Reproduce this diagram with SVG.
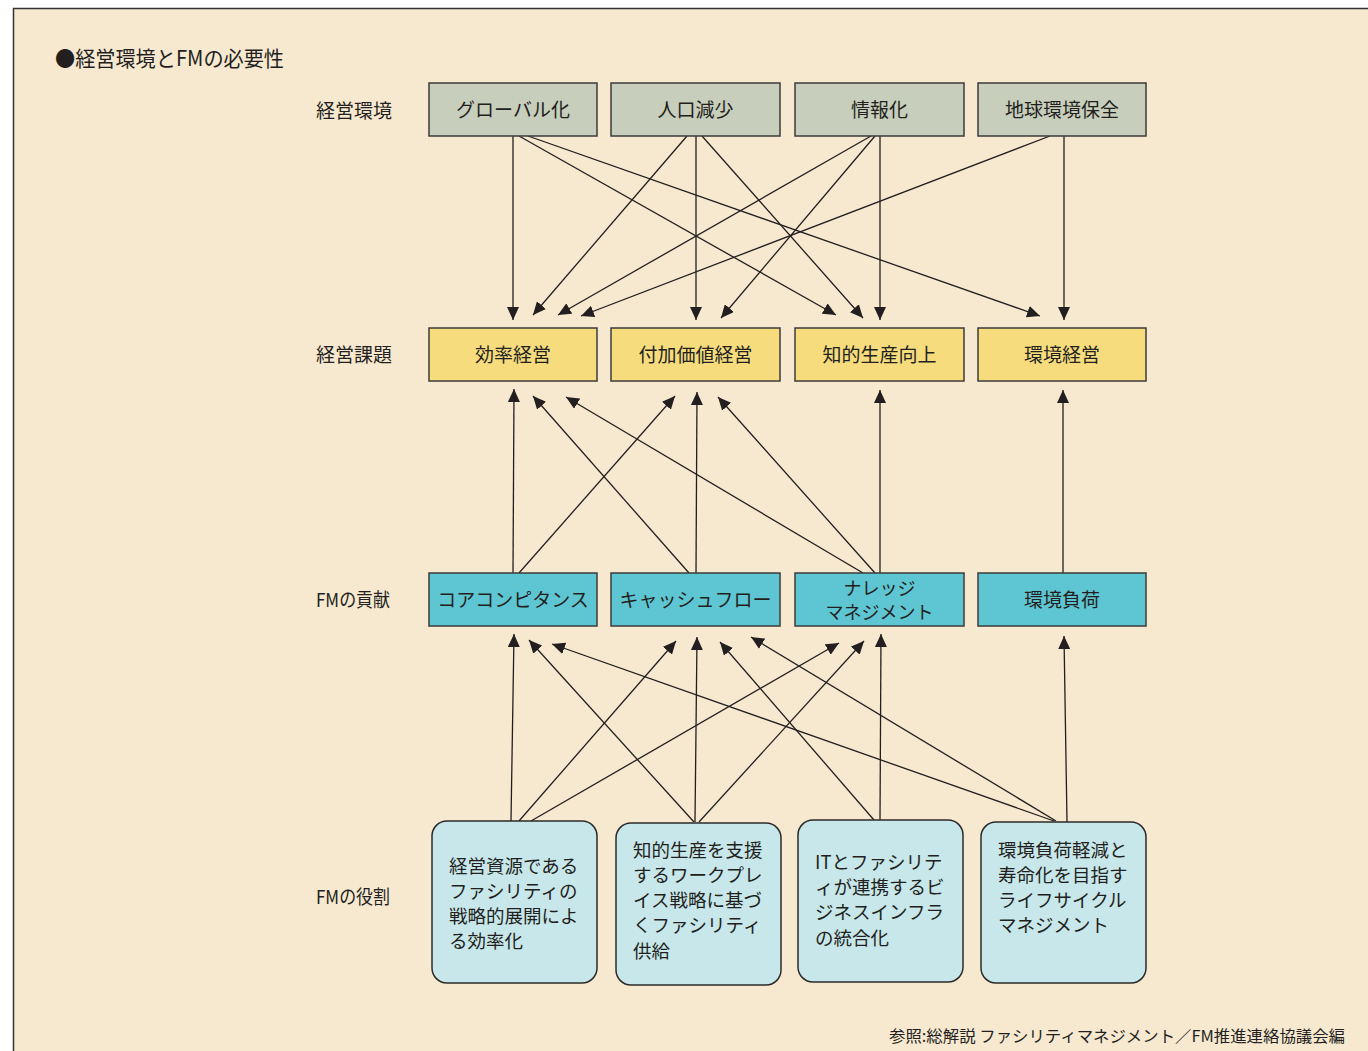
<svg xmlns="http://www.w3.org/2000/svg" width="1368" height="1051" viewBox="0 0 1368 1051">
<style>
text{font-family:"Noto Sans CJK JP","Noto Sans",sans-serif;fill:#231f20}
.lbl{font-size:19px}
.rt{font-size:18.5px}
.bx{font-size:19px;text-anchor:middle}
.env{fill:#c7cebb;stroke:#3d3b3a;stroke-width:1.5}
.iss{fill:#f6dc7d;stroke:#3d3b3a;stroke-width:1.5}
.con{fill:#5ec5d2;stroke:#3d3b3a;stroke-width:1.5}
.rol{fill:#c7e7ea;stroke:#2d2b2a;stroke-width:1.5}
.ln{stroke:#231f20;stroke-width:1.3;fill:none;marker-end:url(#ah)}
</style>
<defs>
<marker id="ah" markerUnits="userSpaceOnUse" markerWidth="14" markerHeight="12" refX="13" refY="6" orient="auto">
<path d="M0,0 L13,6 L0,12 z" fill="#231f20"/>
</marker>
</defs>
<rect x="0" y="0" width="1368" height="1051" fill="#ffffff"/>
<rect x="13.5" y="8.5" width="1370" height="1060" fill="#f7e8d0" stroke="#333" stroke-width="1.5"/>
<text x="55" y="66" style="font-size:21px" textLength="229" lengthAdjust="spacingAndGlyphs">●経営環境とFMの必要性</text>
<g id="row-labels">
<text x="316" y="118" class="lbl">経営環境</text>
<text x="316" y="362" class="lbl">経営課題</text>
<text x="316" y="607" class="lbl" textLength="74" lengthAdjust="spacingAndGlyphs">FMの貢献</text>
<text x="316" y="904" class="lbl" textLength="74" lengthAdjust="spacingAndGlyphs">FMの役割</text>
</g>
<g id="connectors">
<line class="ln" x1="513" y1="136" x2="513" y2="320"/>
<line class="ln" x1="519" y1="136" x2="836" y2="315"/>
<line class="ln" x1="528" y1="136" x2="1040" y2="316"/>
<line class="ln" x1="687" y1="136" x2="533" y2="315"/>
<line class="ln" x1="696" y1="136" x2="696" y2="320"/>
<line class="ln" x1="702" y1="136" x2="863" y2="318"/>
<line class="ln" x1="871" y1="136" x2="558" y2="315"/>
<line class="ln" x1="875" y1="136" x2="721" y2="318"/>
<line class="ln" x1="880" y1="136" x2="880" y2="320"/>
<line class="ln" x1="1050" y1="136" x2="581" y2="316"/>
<line class="ln" x1="1064" y1="136" x2="1064" y2="320"/>

<line class="ln" x1="513" y1="573" x2="514" y2="389"/>
<line class="ln" x1="519" y1="573" x2="675" y2="396"/>
<line class="ln" x1="689" y1="573" x2="533" y2="396"/>
<line class="ln" x1="696" y1="573" x2="697" y2="392"/>
<line class="ln" x1="863" y1="573" x2="566" y2="397"/>
<line class="ln" x1="875" y1="573" x2="718" y2="397"/>
<line class="ln" x1="880" y1="573" x2="880" y2="390"/>
<line class="ln" x1="1063" y1="573" x2="1063" y2="390"/>

<line class="ln" x1="511" y1="821" x2="514" y2="634"/>
<line class="ln" x1="694" y1="822" x2="529" y2="640"/>
<line class="ln" x1="1054" y1="821" x2="552" y2="644"/>
<line class="ln" x1="519" y1="821" x2="676" y2="641"/>
<line class="ln" x1="695" y1="822" x2="697" y2="637"/>
<line class="ln" x1="874" y1="820" x2="720" y2="642"/>
<line class="ln" x1="1056" y1="821" x2="751" y2="637"/>
<line class="ln" x1="531" y1="821" x2="839" y2="643"/>
<line class="ln" x1="699" y1="822" x2="864" y2="641"/>
<line class="ln" x1="880" y1="820" x2="881" y2="634"/>
<line class="ln" x1="1067" y1="822" x2="1064" y2="636"/>
</g>
<g id="env-global"><rect class="env" x="429" y="83" width="168" height="53"/><text class="bx" x="513" y="117">グローバル化</text></g>
<g id="env-pop"><rect class="env" x="611" y="83" width="169" height="53"/><text class="bx" x="695.5" y="117">人口減少</text></g>
<g id="env-info"><rect class="env" x="795" y="83" width="169" height="53"/><text class="bx" x="879.5" y="117">情報化</text></g>
<g id="env-earth"><rect class="env" x="978" y="83" width="168" height="53"/><text class="bx" x="1062" y="117">地球環境保全</text></g>

<g id="iss-eff"><rect class="iss" x="429" y="328" width="168" height="53"/><text class="bx" x="513" y="362">効率経営</text></g>
<g id="iss-val"><rect class="iss" x="611" y="328" width="169" height="53"/><text class="bx" x="695.5" y="362">付加価値経営</text></g>
<g id="iss-know"><rect class="iss" x="795" y="328" width="169" height="53"/><text class="bx" x="879.5" y="362">知的生産向上</text></g>
<g id="iss-env"><rect class="iss" x="978" y="328" width="168" height="53"/><text class="bx" x="1062" y="362">環境経営</text></g>

<g id="con-core"><rect class="con" x="429" y="573" width="168" height="53"/><text class="bx" x="513" y="607">コアコンピタンス</text></g>
<g id="con-cash"><rect class="con" x="611" y="573" width="169" height="53"/><text class="bx" x="695.5" y="607">キャッシュフロー</text></g>
<g id="con-km"><rect class="con" x="795" y="573" width="169" height="53"/><text class="bx" x="879.5" y="595" style="font-size:18px">ナレッジ</text><text class="bx" x="879.5" y="619" style="font-size:18px">マネジメント</text></g>
<g id="con-load"><rect class="con" x="978" y="573" width="168" height="53"/><text class="bx" x="1062" y="607">環境負荷</text></g>

<g id="role-1"><rect class="rol" x="432" y="821" width="165" height="162" rx="15"/>
<text class="rt" x="449" y="873">経営資源である</text><text class="rt" x="449" y="898">ファシリティの</text><text class="rt" x="449" y="923">戦略的展開によ</text><text class="rt" x="449" y="948">る効率化</text></g>
<g id="role-2"><rect class="rol" x="616" y="823" width="165" height="162" rx="15"/>
<text class="rt" x="633" y="857">知的生産を支援</text><text class="rt" x="633" y="882">するワークプレ</text><text class="rt" x="633" y="907">イス戦略に基づ</text><text class="rt" x="633" y="932">くファシリティ</text><text class="rt" x="633" y="958">供給</text></g>
<g id="role-3"><rect class="rol" x="798" y="820" width="165" height="162" rx="15"/>
<text class="rt" x="815" y="869">ITとファシリテ</text><text class="rt" x="815" y="894">ィが連携するビ</text><text class="rt" x="815" y="919">ジネスインフラ</text><text class="rt" x="815" y="945">の統合化</text></g>
<g id="role-4"><rect class="rol" x="981" y="822" width="165" height="161" rx="15"/>
<text class="rt" x="998" y="857">環境負荷軽減と</text><text class="rt" x="998" y="882">寿命化を目指す</text><text class="rt" x="998" y="907">ライフサイクル</text><text class="rt" x="998" y="932">マネジメント</text></g>

<text x="889" y="1042" style="font-size:16px" textLength="456" lengthAdjust="spacingAndGlyphs">参照:総解説 ファシリティマネジメント／FM推進連絡協議会編</text>
</svg>
